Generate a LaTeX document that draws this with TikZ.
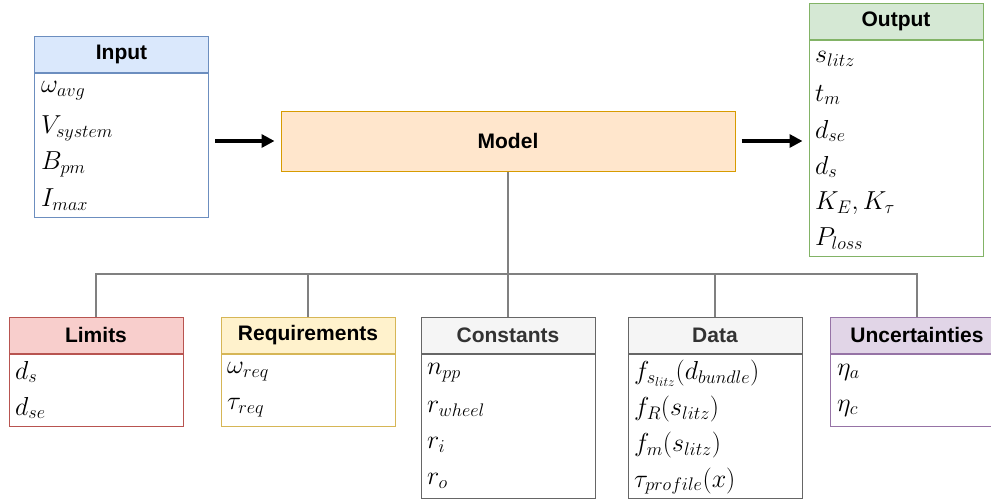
\RequirePackage{fix-cm}
\documentclass[tikz,border=0pt]{standalone}
\usepackage{fontspec}
\setsansfont{Liberation Sans}
\usetikzlibrary{arrows.meta}

\definecolor{inFill}{HTML}{DAE8FC}\definecolor{inLine}{HTML}{6C8EBF}
\definecolor{mdFill}{HTML}{FFE6CC}\definecolor{mdLine}{HTML}{D79B00}
\definecolor{outFill}{HTML}{D5E8D4}\definecolor{outLine}{HTML}{82B366}
\definecolor{limFill}{HTML}{F8CECC}\definecolor{limLine}{HTML}{B85450}
\definecolor{reqFill}{HTML}{FFF2CC}\definecolor{reqLine}{HTML}{D6B656}
\definecolor{grFill}{HTML}{F5F5F5}\definecolor{grLine}{HTML}{666666}
\definecolor{grText}{HTML}{333333}
\definecolor{unFill}{HTML}{E1D5E7}\definecolor{unLine}{HTML}{9673A6}
\definecolor{treeLine}{HTML}{808080}

\tikzset{
  hdr/.style={draw, line width=1pt, minimum width=174pt, minimum height=36pt,
    inner sep=0pt, font=\sffamily\bfseries\fontsize{21}{25}\selectfont},
  bodybox/.style={draw, line width=1pt, fill=white, minimum width=174pt,
    inner sep=0pt, anchor=north},
  item/.style={anchor=west, inner sep=0pt, font=\fontsize{26}{30}\selectfont},
  flow/.style={line width=3.5pt, -{Triangle[length=13pt,width=13pt]},
    shorten <=6pt, shorten >=6pt},
  tree/.style={draw=treeLine, line width=2pt}
}

\begin{document}
\begin{tikzpicture}[x=1pt, y=-1pt]
\useasboundingbox (0,0) rectangle (991,499);
\clip (0,0) rectangle (991,499);

% Input block
\node[hdr, fill=inFill, draw=inLine] (inh) at (121.5,54) {Input};
\node[bodybox, draw=inLine, minimum height=144pt] (inb) at (inh.south) {};
\node[item] (in1) at (41,91) {$\omega_{avg}$};
\node[item] (in2) at (41,128) {$V_{system}$};
\node[item] (in3) at (41,164) {$B_{pm}$};
\node[item] (in4) at (41,200) {$I_{max}$};

% Model block
\node[draw=mdLine, fill=mdFill, line width=1pt, minimum width=454pt,
  minimum height=60pt, font=\sffamily\bfseries\fontsize{21}{25}\selectfont]
  (model) at (508,141) {Model};

% Output block
\node[hdr, fill=outFill, draw=outLine] (outh) at (896,21) {Output};
\node[bodybox, draw=outLine, minimum height=216pt] (outb) at (outh.south) {};
\node[item] (o1) at (815,59) {$s_{litz}$};
\node[item] (o2) at (815,95) {$t_m$};
\node[item] (o3) at (815,131) {$d_{se}$};
\node[item] (o4) at (815,167) {$d_s$};
\node[item] (o5) at (815,203) {$K_E, K_\tau$};
\node[item] (o6) at (815,239) {$P_{loss}$};

% Flow arrows
\draw[flow] (inb.east |- model.west) -- (model.west);
\draw[flow] (model.east) -- (outb.west |- model.east);

% Limits
\node[hdr, fill=limFill, draw=limLine] (limh) at (96,335) {Limits};
\node[bodybox, draw=limLine, minimum height=72pt] (limb) at (limh.south) {};
\node[item] (l1) at (15,372) {$d_s$};
\node[item] (l2) at (15,408) {$d_{se}$};

% Requirements
\node[hdr, fill=reqFill, draw=reqLine] (reqh) at (308,335) {Requirements};
\node[bodybox, draw=reqLine, minimum height=72pt] (reqb) at (reqh.south) {};
\node[item] (r1) at (227,372) {$\omega_{req}$};
\node[item] (r2) at (227,408) {$\tau_{req}$};

% Constants
\node[hdr, fill=grFill, draw=grLine, text=grText] (conh) at (508,335) {Constants};
\node[bodybox, draw=grLine, minimum height=144pt] (conb) at (conh.south) {};
\node[item] (c1) at (427,373) {$n_{pp}$};
\node[item] (c2) at (427,409) {$r_{wheel}$};
\node[item] (c3) at (427,445) {$r_i$};
\node[item] (c4) at (427,481) {$r_o$};

% Data
\node[hdr, fill=grFill, draw=grLine, text=grText] (dath) at (715,335) {Data};
\node[bodybox, draw=grLine, minimum height=144pt] (datb) at (dath.south) {};
\node[item] (d1) at (634,373) {$f_{s_{litz}}(d_{bundle})$};
\node[item] (d2) at (634,409) {$f_R(s_{litz})$};
\node[item] (d3) at (634,445) {$f_m(s_{litz})$};
\node[item] (d4) at (634,481) {$\tau_{profile}(x)$};

% Uncertainties
\node[hdr, fill=unFill, draw=unLine] (unh) at (917,335) {Uncertainties};
\node[bodybox, draw=unLine, minimum height=72pt] (unb) at (unh.south) {};
\node[item] (u1) at (837,372) {$\eta_a$};
\node[item] (u2) at (837,408) {$\eta_c$};

% Tree connecting the model to its parameter groups
\coordinate (bus) at (508,274);
\draw[tree] (model.south) -- (bus);
\draw[tree] (limh.north) |- (bus);
\draw[tree] (reqh.north) |- (bus);
\draw[tree] (conh.north) -- (bus);
\draw[tree] (dath.north) |- (bus);
\draw[tree] (unh.north) |- (bus);
\end{tikzpicture}
\end{document}
